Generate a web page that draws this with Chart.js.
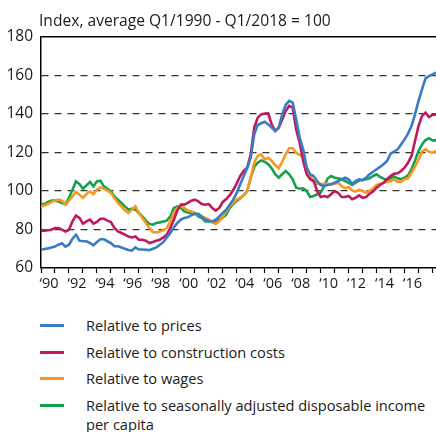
<!DOCTYPE html>
<html>
<head>
<meta charset="utf-8">
<script src="https://cdn.jsdelivr.net/npm/chart.js@4.4.1/dist/chart.umd.min.js"></script>
<style>
  body { margin: 0; background: #fff; font-family: "Open Sans", sans-serif; color: #1a1a1a; }
  #wrap { position: relative; width: 436px; height: 432px; overflow: hidden; }
  #chart { position: absolute; left: 0; top: 0; }
  #title { position: absolute; left: 39px; top: 10px; font-size: 15.6px; line-height: 20px; white-space: nowrap; }
  #legend { position: absolute; left: 40px; top: 316px; width: 396px; }
  .item { display: flex; align-items: flex-start; font-size: 14.6px; line-height: 19px; margin-bottom: 7.7px; }
  .swatch { width: 24px; height: 3px; margin-top: 8px; flex: none; }
  .label { margin-left: 22px; }
</style>
</head>
<body>
<div id="wrap">
  <canvas id="chart" width="436" height="293"></canvas>
  <div id="title">Index, average Q1/1990 - Q1/2018 = 100</div>
  <div id="legend"></div>
</div>
<script>
// quarterly series, 1990 Q1 to 2018 Q2
const firstYear = 1990;
const seriesNames = [
  "Relative to prices",
  "Relative to construction costs",
  "Relative to wages",
  "Relative to seasonally adjusted disposable income per capita"
];
const seriesColors = ["#3a7cc4", "#bf1a5f", "#f6991f", "#13a24b"];
const tickLabels = { 1990: "‘90", 1992: "‘92", 1994: "‘94", 1996: "‘96", 1998: "‘98", 2000: "‘00",
  2002: "‘02", 2004: "‘04", 2006: "‘06", 2008: "‘08", 2010: "‘10", 2012: "‘12", 2014: "‘14", 2016: "‘16" };

const prices = [
  69.5, 69.9, 70.2, 70.7,  71.1, 72.1, 72.8, 71.1,  72.1, 75.2, 77.3, 74.2,  73.9, 73.9, 73.0, 71.8,
  73.5, 74.9, 74.9, 73.9,  73.0, 71.3, 71.3, 70.7,  70.0, 69.4, 69.0, 70.7,  69.6, 69.6, 69.5, 69.3,
  70.0, 70.7, 72.1, 73.5,  75.9, 78.2, 81.1, 83.4,  85.1, 86.0, 86.3, 87.4,  88.1, 88.1, 86.8, 85.1,
  84.6, 84.2, 85.1, 86.8,  88.6, 90.3, 92.9, 95.5,  99.0, 103.5, 107.8, 112.1,  117.3, 129.4, 134.3, 135.2,
  136.0, 134.6, 132.9, 131.2,  132.9, 139.8, 144.7, 146.8,  145.9, 137.2, 127.7, 121.6,  112.1, 108.7, 107.8, 105.2,
  103.1, 102.6, 103.1, 103.5,  104.3, 105.2, 106.1, 106.9,  106.1, 103.8, 105.2, 106.1,  105.7, 106.9, 108.7, 110.0,
  111.3, 112.5, 113.9, 115.6,  119.4, 120.4, 121.6, 124.2,  126.8, 129.8, 133.8, 139.8,  146.8, 152.8, 158.5, 159.7,
  160.6, 161.5
];
const constructionCosts = [
  79.4, 79.4, 79.6, 79.9,  80.8, 80.8, 79.9, 79.0,  79.9, 84.2, 87.2, 86.0,  83.0, 84.2, 85.1, 83.0,
  83.9, 85.6, 85.6, 84.6,  83.9, 80.8, 79.0, 78.2,  77.3, 76.4, 75.9, 76.4,  74.7, 74.7, 74.2, 73.0,
  73.5, 74.2, 74.7, 75.9,  77.3, 80.8, 85.1, 89.8,  92.9, 92.9, 93.8, 95.0,  95.5, 94.6, 93.2, 92.9,
  93.2, 91.2, 89.8, 91.2,  94.3, 95.8, 97.8, 100.5,  104.0, 107.8, 110.4, 112.1,  119.0, 132.9, 138.1, 139.8,
  140.2, 140.3, 134.6, 131.2,  132.9, 137.2, 141.6, 144.2,  143.3, 132.0, 125.1, 115.6,  108.7, 106.1, 105.2, 100.0,
  96.9, 97.4, 96.9, 98.3,  100.0, 99.1, 96.9, 96.9,  97.4, 95.7, 96.5, 97.7,  96.5, 96.9, 98.6, 99.7,
  101.7, 103.1, 104.3, 106.1,  107.8, 109.0, 109.2, 110.4,  112.1, 114.7, 118.2, 126.0,  133.8, 139.0, 140.7, 138.4,
  139.5, 139.8
];
const wages = [
  92.0, 92.6, 93.2, 94.3,  95.0, 95.5, 95.0, 92.9,  95.0, 97.2, 99.5, 98.1,  96.4, 98.4, 99.8, 98.4,
  100.7, 101.9, 101.2, 100.2,  99.0, 96.4, 93.8, 92.0,  89.8, 88.6, 90.3, 92.0,  88.6, 86.0, 83.4, 80.8,
  78.7, 78.5, 79.0, 79.6,  80.8, 84.2, 88.6, 91.2,  92.0, 91.2, 89.8, 89.4,  88.6, 87.7, 86.8, 86.0,
  85.1, 83.7, 82.9, 84.2,  86.8, 89.4, 92.0, 93.8,  95.5, 96.5, 97.7, 99.7,  106.9, 114.7, 118.2, 119.0,
  116.4, 117.3, 115.6, 113.5,  111.8, 115.2, 119.0, 122.2,  122.2, 119.9, 118.7, 118.2,  112.1, 107.8, 104.8, 103.8,
  103.8, 103.8, 103.8, 103.5,  103.8, 104.3, 102.6, 101.4,  102.1, 100.3, 99.7, 100.7,  100.0, 99.1, 100.0, 101.4,
  103.1, 103.8, 104.3, 104.7,  105.2, 106.1, 104.8, 104.8,  106.1, 106.6, 109.5, 112.5,  116.4, 120.4, 121.6, 120.4,
  119.9, 120.8
];
const disposableIncome = [
  93.2, 93.2, 94.3, 95.0,  95.0, 94.6, 93.8, 93.2,  96.4, 100.7, 105.0, 103.6,  101.2, 102.9, 104.7, 102.4,
  105.0, 105.4, 102.4, 101.2,  99.8, 97.2, 95.5, 93.8,  92.0, 90.3, 90.8, 90.3,  88.6, 86.8, 84.6, 82.9,
  82.5, 83.4, 83.7, 84.2,  84.6, 86.8, 91.2, 92.0,  91.2, 89.4, 88.9, 88.6,  88.6, 86.8, 86.0, 84.2,
  84.2, 84.2, 83.9, 85.1,  86.3, 87.7, 91.2, 93.2,  94.8, 96.2, 97.9, 100.0,  106.9, 112.5, 114.7, 115.9,
  115.2, 113.9, 111.8, 108.7,  106.9, 108.7, 110.4, 108.7,  106.1, 101.7, 101.2, 101.4,  100.0, 96.9, 97.4, 98.3,
  99.1, 102.5, 106.5, 107.8,  106.9, 106.6, 106.1, 105.2,  104.3, 103.1, 104.3, 105.5,  105.7, 106.1, 106.6, 107.8,
  108.7, 107.3, 106.4, 105.7,  106.6, 107.6, 106.6, 106.1,  106.9, 108.1, 111.3, 115.9,  120.8, 124.2, 126.5, 127.4,
  126.3, 126.3
];

const series = [prices, constructionCosts, wages, disposableIncome];
const quarters = prices.map((_, i) => firstYear + i / 4);

const datasets = series.map((values, s) => ({
  label: seriesNames[s],
  data: values.map((v, i) => ({ x: quarters[i], y: v })),
  borderColor: seriesColors[s],
  borderWidth: 2.6,
  pointRadius: 0,
  tension: 0,
  fill: false
}));

const chart = new Chart(document.getElementById("chart"), {
  type: "line",
  data: { datasets },
  options: {
    responsive: false,
    animation: false,
    layout: { padding: { top: 37, left: 0, right: 0, bottom: 0 } },
    plugins: { legend: { display: false }, tooltip: { enabled: false } },
    scales: {
      x: {
        type: "linear",
        min: firstYear,
        max: quarters[quarters.length - 1],
        afterFit: scale => { scale.height = 25; },
        ticks: {
          stepSize: 1,
          includeBounds: false,
          autoSkip: false,
          maxRotation: 0,
          labelOffset: 8,
          padding: 2,
          color: "#1a1a1a",
          font: { family: "Open Sans", size: 14.5 },
          callback: v => tickLabels[v] || ""
        },
        grid: { drawOnChartArea: false, tickLength: 5, tickColor: "#000", tickWidth: 1.2 },
        border: { color: "#000", width: 1.5 }
      },
      y: {
        min: 60,
        max: 180,
        afterFit: scale => { scale.width = 41; },
        ticks: {
          stepSize: 20,
          padding: 8,
          color: "#1a1a1a",
          font: { family: "Open Sans", size: 15.5 }
        },
        grid: {
          drawTicks: false,
          color: ctx => ctx.tick.value === 60 ? "rgba(0,0,0,0)" : (ctx.tick.value === 180 ? "#000" : "#333"),
          lineWidth: ctx => ctx.tick.value === 180 ? 1.5 : 1.3
        },
        border: {
          color: "#000",
          width: 1.5,
          dash: ctx => (ctx.tick && ctx.tick.value === 180) ? [] : [7, 6]
        }
      }
    }
  }
});

// legend as html so the long label can wrap
const legend = document.getElementById("legend");
chart.data.datasets.forEach(ds => {
  const item = document.createElement("div");
  item.className = "item";
  item.innerHTML = `<span class="swatch" style="background:${ds.borderColor}"></span><span class="label">${ds.label}</span>`;
  legend.appendChild(item);
});
</script>
</body>
</html>
